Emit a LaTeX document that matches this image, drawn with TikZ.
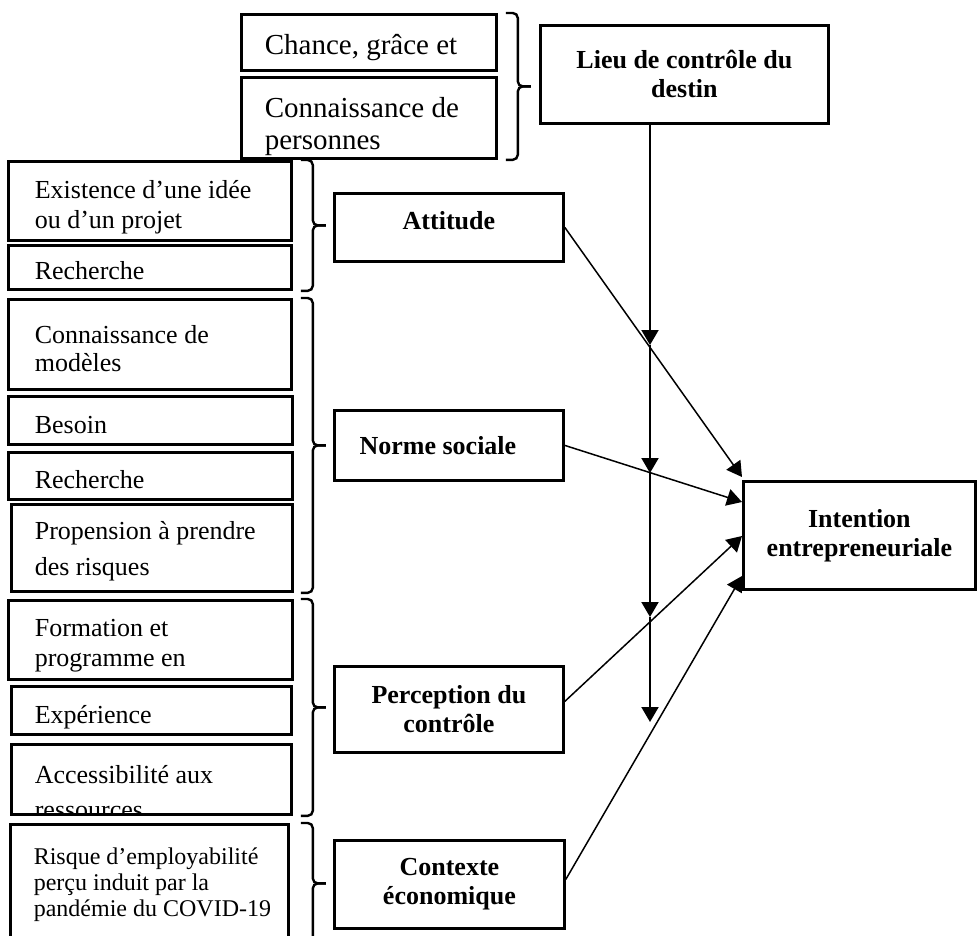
\documentclass[tikz,border=0pt]{standalone}
\usepackage{fontspec}
\setmainfont{Liberation Serif}
\usetikzlibrary{arrows.meta,calc}

\newcommand{\bigtxt}{\fontsize{29}{32}\selectfont}
\newcommand{\midtxt}{\fontsize{26}{30}\selectfont}
\newcommand{\smltxt}{\fontsize{24}{26}\selectfont}
\newcommand{\boldtxt}{\fontsize{26}{29}\selectfont\bfseries}

% accolade a la Word : haut, bas
\newcommand{\accol}[2]{%
  \coordinate (bt) at #1;
  \coordinate (bb) at #2;
  \coordinate (bm) at ($(bt)!0.5!(bb)$);
  \draw[grp] (bt) -| ([xshift=12pt]bm) -- ([xshift=25pt]bm);
  \draw[grp] (bb) -| ([xshift=12pt]bm) -- ([xshift=25pt]bm);
}

\begin{document}
\begin{tikzpicture}
  [x=1pt, y=-1pt,
   lbox/.style={draw, line width=2.8pt, anchor=north west, inner sep=0pt},
   say/.style n args={3}{path picture={
       \node[anchor=base west, inner sep=0pt, font=#2]
         at ([shift={(#1)}]path picture bounding box.north west)
         {\parbox[t]{300pt}{\raggedright #3}};}},
   rbox/.style={draw, line width=2.8pt, anchor=north west, inner sep=0pt,
                align=center, font=\boldtxt},
   grp/.style={line width=2.4pt, rounded corners=5pt},
   arr/.style={-{Triangle[length=15pt, width=17pt]}, line width=1.5pt},
   vlink/.style={-{Triangle[length=15pt, width=17pt]}, line width=2pt}]

  \useasboundingbox (0,0) rectangle (977,935);

  % sources du lieu de controle
  \node[lbox, minimum width=255pt, minimum height=56pt,
        say={22pt,-40pt}{\bigtxt}{Chance, grâce et}] (chance) at (240,13) {};
  \node[lbox, minimum width=255pt, minimum height=81pt,
        say={22pt,-40pt}{\bigtxt}{Connaissance de\\personnes}] (pers) at (240,76) {};

  % facteurs de gauche
  \node[lbox, minimum width=283pt, minimum height=79pt,
        say={25pt,-37pt}{\midtxt}{Existence d’une idée\\ou d’un projet}] (idee) at (7,160) {};
  \node[lbox, minimum width=283pt, minimum height=44pt,
        say={25pt,-34pt}{\midtxt}{Recherche}] (rech1) at (7,244) {};
  \node[lbox, minimum width=283pt, minimum height=90pt,
        say={25pt,-44pt}{\midtxt}{Connaissance de\\[-2pt]modèles}] (modl) at (7,298) {};
  \node[lbox, minimum width=284pt, minimum height=48pt,
        say={25pt,-37pt}{\midtxt}{Besoin}] (besoin) at (7,395) {};
  \node[lbox, minimum width=284pt, minimum height=47pt,
        say={25pt,-36pt}{\midtxt}{Recherche}] (rech2) at (7,451) {};
  \node[lbox, minimum width=281pt, minimum height=87pt,
        say={22pt,-35pt}{\midtxt}{Propension à prendre\\[6pt]des risques}] (prop) at (10,503) {};
  \node[lbox, minimum width=284pt, minimum height=79pt,
        say={25pt,-36pt}{\midtxt}{Formation et\\programme en}] (form) at (7,599) {};
  \node[lbox, minimum width=280pt, minimum height=48pt,
        say={22pt,-37pt}{\midtxt}{Expérience}] (exp) at (10,685) {};
  \node[lbox, minimum width=280pt, minimum height=70pt,
        say={22pt,-39pt}{\midtxt}{Accessibilité aux\\[5pt]ressources}] (acc) at (10,743) {};
  \node[lbox, minimum width=278pt, minimum height=118pt,
        say={22pt,-40pt}{\smltxt}{Risque d’employabilité\\perçu induit par la\\pandémie du COVID-19}] (risq) at (9,823) {};

  % variables du modele
  \node[rbox, minimum width=288pt, minimum height=98pt] (lieu) at (539,24) {Lieu de contrôle du\\destin};
  \node[rbox, minimum width=229pt, minimum height=68pt] (att) at (333,192) {\raisebox{7pt}[\height][\depth]{Attitude}};
  \node[rbox, minimum width=229pt, minimum height=70pt] (norme) at (333,409) {Norme sociale\hspace*{22pt}};
  \node[rbox, minimum width=229pt, minimum height=86pt] (perc) at (333,665) {Perception du\\contrôle};
  \node[rbox, minimum width=230pt, minimum height=88pt] (ctx) at (333,839) {Contexte\\économique};
  \node[rbox, minimum width=232pt, minimum height=108pt] (int) at (742,480) {Intention\\entrepreneuriale};

  % accolades
  \accol{([xshift=8pt]chance.north east)}{([xshift=8pt]pers.south east)}
  \accol{([xshift=8pt]idee.north east)}{([xshift=8pt]rech1.south east)}
  \accol{([xshift=8pt]modl.north east)}{([xshift=7pt]prop.south east)}
  \accol{([xshift=7pt]form.north east)}{([xshift=8pt]acc.south east)}
  \accol{([xshift=11pt]risq.north east)}{([xshift=11pt]risq.south east)}

  % moderation
  \coordinate (v1) at (650,345);
  \coordinate (v2) at (650,473);
  \coordinate (v3) at (650,617);
  \coordinate (v4) at (650,722);
  \coordinate (v0) at (lieu.south -| v1);
  \foreach \a/\b in {v0/v1,v1/v2,v2/v3,v3/v4}
    \draw[vlink] (\a) -- (\b);

  % effets sur l'intention
  \draw[arr] (att.east) -- ([yshift=3pt]int.north west);
  \draw[arr] (norme.east) -- ([yshift=-22pt]int.north west);
  \draw[arr] ([yshift=8pt]perc.east) -- ([yshift=-56pt]int.north west);
  \draw[arr] ([yshift=5pt]ctx.east) -- ([yshift=-96pt]int.north west);
\end{tikzpicture}
\end{document}
